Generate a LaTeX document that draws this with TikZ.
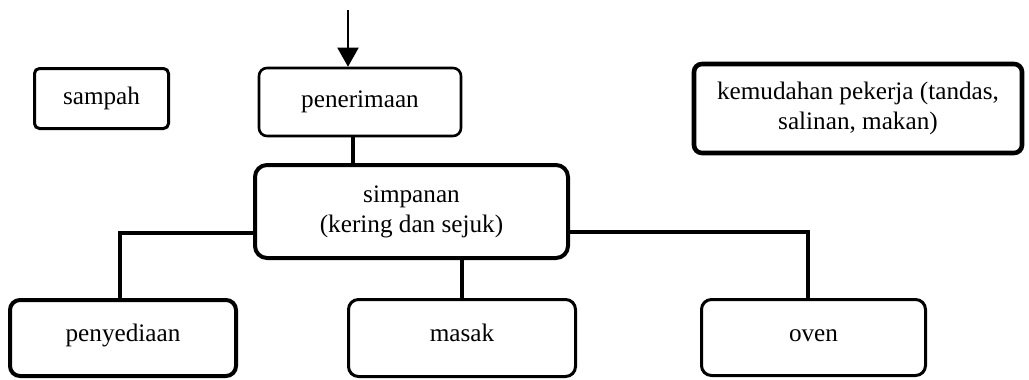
\documentclass[tikz,border=0pt]{standalone}
\usepackage{fontspec}
\setmainfont{Liberation Serif}
\usepackage{tikz}
\usetikzlibrary{arrows.meta}

\begin{document}
\begin{tikzpicture}[x=0.5pt,y=-0.5pt,>={Triangle[length=9.5pt,width=10.5pt]},
  font=\fontsize{12.6}{15}\selectfont,
  box/.style={draw, rounded corners=4pt, inner sep=0pt, align=center, line width=1.3pt},
  low/.style={text height=8.5pt, text depth=5pt},
  link/.style={line width=2pt}]

\useasboundingbox (0,0) rectangle (1029,380);

\node[box, line width=1.5pt, rounded corners=2.5pt, minimum width=67pt, minimum height=30pt] (sampah) at (101.5,98.5) {sampah};
\node[box, minimum width=101pt, minimum height=34pt] (terima) at (360,102) {penerimaan};
\node[box, line width=2.3pt, minimum width=164pt, minimum height=44.5pt] (kemudahan) at (858,108.5) {kemudahan pekerja (tandas,\\ salinan, makan)};

\node[box, line width=2pt, rounded corners=6pt, minimum width=156.5pt, minimum height=46.5pt] (simpan) at (411.5,211.5) {simpanan\\ (kering dan sejuk)};

\node[box, low, line width=2pt, rounded corners=5pt, minimum width=113pt, minimum height=38pt] (sedia) at (123,338) {penyediaan};
\node[box, low, line width=1.5pt, rounded corners=5pt, minimum width=113.5pt, minimum height=38.5pt] (masak) at (462,338) {masak};
\node[box, low, line width=1.5pt, rounded corners=5pt, minimum width=112pt, minimum height=38pt] (oven) at (813.5,337.5) {oven};

\coordinate (masuk) at (348,10);

\draw[->, line width=1pt] (masuk) -- (masuk |- terima.north);
\draw[link, line width=1.8pt] ([xshift=-3.5pt]terima.south) -- ([xshift=-3.5pt]terima.south |- simpan.north);
\draw[link] ([yshift=-10.75pt]simpan.west) -| ([xshift=-1.5pt]sedia.north);
\draw[link] (simpan.south -| masak.north) -- (masak.north);
\draw[link] ([yshift=-10.25pt]simpan.east) -| ([xshift=-2.75pt]oven.north);
\end{tikzpicture}
\end{document}
